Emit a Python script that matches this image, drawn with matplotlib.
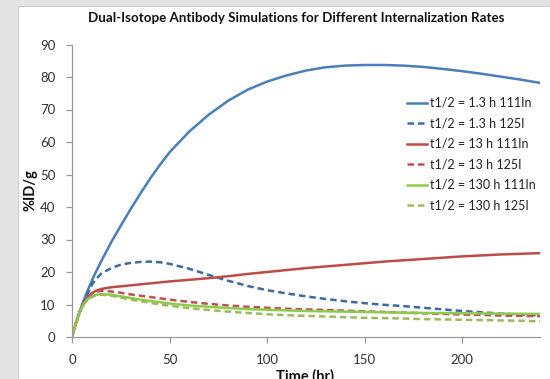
import matplotlib
matplotlib.use("Agg")
import matplotlib.pyplot as plt
from matplotlib.patches import Rectangle

# time points (hr)
time_hr = [0, 2, 4, 6, 8, 10, 12, 15, 20, 25, 30, 35, 40, 45, 50, 60, 70, 80,
           90, 100, 110, 120, 130, 140, 150, 160, 170, 180, 190, 200, 210, 220, 230, 240]

# %ID/g for each internalization half-life and isotope
in111_1h3 = [0.5, 4.6, 8.3, 11.5, 14.5, 17.3, 19.9, 23.5, 29.2, 34.4, 39.4, 44.2, 48.8,
             53.0, 56.9, 63.2, 68.4, 72.7, 76.1, 78.6, 80.5, 82.0, 83.0, 83.5, 83.7, 83.7,
             83.5, 83.1, 82.5, 81.8, 81.0, 80.1, 79.2, 78.2]
i125_1h3 = [0.5, 4.5, 8.0, 10.6, 13.4, 16.0, 17.7, 19.6, 21.2, 22.3, 22.8, 23.1, 23.2,
            23.0, 22.5, 21.0, 19.1, 17.3, 15.7, 14.4, 13.4, 12.5, 11.7, 11.0, 10.4, 9.9,
            9.5, 9.0, 8.5, 8.0, 7.6, 7.2, 6.9, 6.6]
in111_13h = [0.5, 4.5, 8.0, 10.5, 12.3, 13.5, 14.2, 14.8, 15.3, 15.6, 15.9, 16.2, 16.5,
             16.8, 17.1, 17.6, 18.1, 18.7, 19.4, 20.0, 20.6, 21.2, 21.7, 22.2, 22.7, 23.2,
             23.6, 24.0, 24.4, 24.8, 25.1, 25.4, 25.6, 25.8]
i125_13h = [0.5, 4.5, 8.0, 10.5, 12.2, 13.3, 13.9, 14.2, 14.0, 13.6, 13.1, 12.7, 12.3,
            11.9, 11.5, 10.8, 10.2, 9.7, 9.3, 9.0, 8.7, 8.5, 8.3, 8.1, 7.9, 7.7,
            7.5, 7.3, 7.1, 6.9, 6.8, 6.6, 6.5, 6.4]
in111_130h = [0.5, 4.5, 8.0, 10.3, 11.7, 12.5, 13.0, 13.2, 13.0, 12.5, 12.0, 11.5, 11.1,
              10.7, 10.3, 9.7, 9.3, 8.9, 8.6, 8.4, 8.2, 8.0, 7.9, 7.8, 7.7, 7.6,
              7.5, 7.4, 7.35, 7.3, 7.25, 7.2, 7.15, 7.1]
i125_130h = [0.5, 4.5, 8.0, 10.2, 11.5, 12.3, 12.8, 13.0, 12.7, 12.1, 11.5, 11.0, 10.5,
             10.0, 9.6, 8.9, 8.3, 7.8, 7.4, 7.0, 6.7, 6.5, 6.3, 6.1, 5.9, 5.8,
             5.7, 5.5, 5.4, 5.3, 5.2, 5.1, 5.0, 4.8]

series = [
    ("t1/2 = 1.3 h 111In", in111_1h3, "#4A7EBB", "-"),
    ("t1/2 = 1.3 h 125I", i125_1h3, "#3D69A3", "--"),
    ("t1/2 = 13 h 111In", in111_13h, "#BE4B48", "-"),
    ("t1/2 = 13 h 125I", i125_13h, "#C0504D", "--"),
    ("t1/2 = 130 h 111In", in111_130h, "#8CCB4E", "-"),
    ("t1/2 = 130 h 125I", i125_130h, "#9BBB59", "--"),
]

plt.rcParams["font.family"] = ["Lato", "DejaVu Sans"]

fig = plt.figure(figsize=(5.5, 3.79), dpi=100, facecolor="#e4e4e4")
# white chart area behind the axes
fig.patches.append(Rectangle((18 / 550, 0), 1, (379 - 6) / 379, transform=fig.transFigure,
                             facecolor="white", edgecolor="#d0d0d0", lw=0.8, zorder=-5))

ax = fig.add_axes([72.3 / 550, 1 - 337 / 379, (540 - 72.3) / 550, (337 - 44.5) / 379])
ax.set_facecolor("none")

for label, vals, color, ls in series:
    if ls == "--":
        ax.plot(time_hr, vals, color=color, lw=1.8, linestyle=(0, (2.6, 1.6)), label=label)
    else:
        ax.plot(time_hr, vals, color=color, lw=1.8, label=label)

ax.set_xlim(0, 240)
ax.set_ylim(0, 90)
ax.set_xticks([0, 50, 100, 150, 200])
ax.set_yticks(range(0, 91, 10))

for side in ("top", "right"):
    ax.spines[side].set_visible(False)
for side in ("left", "bottom"):
    ax.spines[side].set_color("#9a9a9a")
    ax.spines[side].set_linewidth(0.9)
ax.tick_params(axis="both", colors="#9a9a9a", labelcolor="#333333", labelsize=9.5,
               length=4, width=0.9)
ax.tick_params(axis="x", pad=8)
ax.tick_params(axis="y", pad=8)

leg = ax.legend(loc="upper left", bbox_to_anchor=(0.705, 0.838), frameon=False,
                fontsize=9, handlelength=1.6, handletextpad=0.25, labelspacing=0.68,
                borderaxespad=0)
for txt in leg.get_texts():
    txt.set_color("#222222")

fig.text(296 / 550, 1 - 18 / 379, "Dual-Isotope Antibody Simulations for Different Internalization Rates",
         ha="center", va="center", fontsize=9.6, fontweight="bold", color="#111111")
fig.text(30 / 550, 1 - 190 / 379, "%ID/g", rotation=90, ha="center", va="center",
         fontsize=10.5, fontweight="bold", color="#111111")
fig.text(305 / 550, 1 - 376 / 379, "Time (hr)", ha="center", va="center",
         fontsize=10.5, fontweight="bold", color="#111111")

fig.savefig("out.png", dpi=100, facecolor=fig.get_facecolor())
